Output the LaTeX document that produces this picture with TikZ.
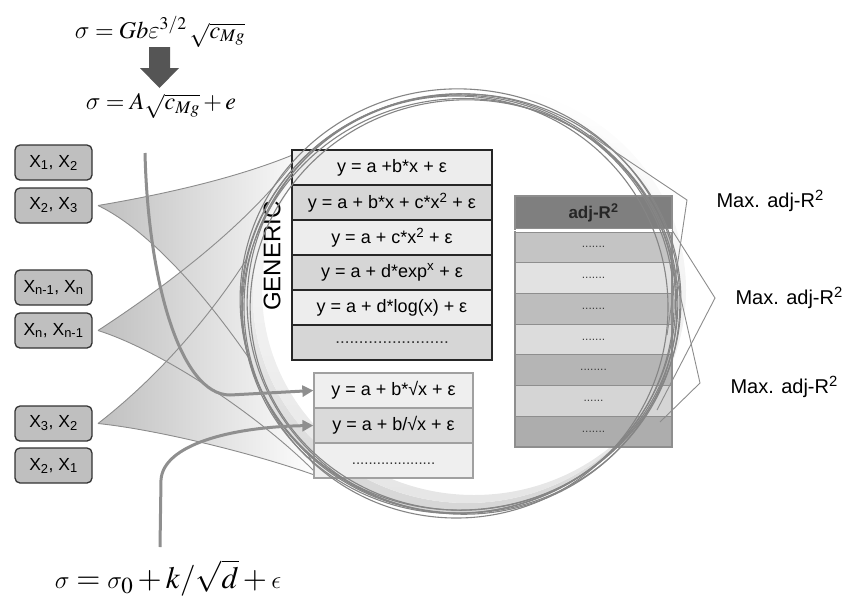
\documentclass[tikz,border=0pt]{standalone}
\usepackage{mathptmx}
\usepackage[no-math]{fontspec}
\setmainfont{Liberation Sans}
\DeclareSymbolFont{cmletters}{OML}{cmm}{m}{it}
\DeclareMathSymbol{\csig}{\mathord}{cmletters}{"1B}
\DeclareMathSymbol{\cvareps}{\mathord}{cmletters}{"22}
\DeclareMathSymbol{\ceps}{\mathord}{cmletters}{"0F}
\usetikzlibrary{arrows.meta}
\definecolor{boxfill}{HTML}{BFBFBF}
\definecolor{boxline}{HTML}{333333}
\definecolor{gA}{HTML}{EDEDED}
\definecolor{gB}{HTML}{D6D6D6}
\definecolor{sA}{HTML}{EFEFEF}
\definecolor{sB}{HTML}{DADADA}
\definecolor{sline}{HTML}{A0A0A0}
\definecolor{aH}{HTML}{7F7F7F}
\definecolor{a1}{HTML}{C4C4C4}
\definecolor{a2}{HTML}{E2E2E2}
\definecolor{a3}{HTML}{BDBDBD}
\definecolor{a4}{HTML}{DCDCDC}
\definecolor{a5}{HTML}{B5B5B5}
\definecolor{a6}{HTML}{D5D5D5}
\definecolor{a7}{HTML}{ADADAD}
\definecolor{aline}{HTML}{8E8E8E}
\definecolor{ringc}{HTML}{858585}
\definecolor{fanline}{HTML}{8C8C8C}
\definecolor{flowc}{HTML}{8F8F8F}
\definecolor{darkarrow}{HTML}{555555}
\tikzset{
  xbox/.style={draw=boxline, fill=boxfill, rounded corners=5pt, line width=1.3pt,
    minimum width=77pt, minimum height=35pt, inner sep=0pt, font=\fontsize{17.5}{20}\selectfont},
  genrow/.style={draw=black!85, line width=1.3pt, minimum width=200pt, minimum height=35pt,
    inner sep=0pt, font=\fontsize{18}{20}\selectfont},
  srow/.style={draw=sline, line width=1.3pt, minimum width=159pt, minimum height=35pt,
    inner sep=0pt, font=\fontsize{18}{20}\selectfont},
  arow/.style={draw=aline, line width=1.2pt, minimum width=157pt, minimum height=30.7pt,
    inner sep=0pt, font=\fontsize{12}{14}\selectfont, text=black!75},
  ring/.style={draw=ringc, line width=1.1pt},
  fanedge/.style={draw=fanline, line width=0.9pt},
  fanfill/.style={left color=black!25, right color=white},
  flow/.style={draw=flowc, line width=3pt, -{Triangle[length=11pt,width=11pt]}},
  maxlab/.style={anchor=west, font=\fontsize{20}{24}\selectfont},
  formula/.style={inner sep=0pt},
}
\begin{document}
\begin{tikzpicture}[x=1pt,y=-1pt]
\useasboundingbox (0,0) rectangle (861,600);

% formulas
\node[formula, font=\fontsize{24}{28}\selectfont] (f1) at (160,32) {$\csig = Gb\cvareps^{3/2}\,\sqrt{c_{Mg}}$};
\node[formula, font=\fontsize{24}{28}\selectfont] (f2) at (161,106) {$\csig = A\sqrt{c_{Mg}} + e$};
\node[formula, font=\fontsize{31}{36}\selectfont] (f3) at (168,578) {$\csig = \csig_0 + k/\sqrt{d} + \ceps$};

% block arrow
\fill[darkarrow] (149,47) -- (170,47) -- (170,68) -- (179,68) -- (159.5,88) -- (140,68) -- (149,68) -- cycle;

% left boxes
\node[xbox] (b1) at (53.5,162.5) {X\textsubscript{1}, X\textsubscript{2}};
\node[xbox] (b2) at (53.5,205.5) {X\textsubscript{2}, X\textsubscript{3}};
\node[xbox] (b3) at (53.5,287.5) {X\textsubscript{n-1}, X\textsubscript{n}};
\node[xbox] (b4) at (53.5,330.5) {X\textsubscript{n}, X\textsubscript{n-1}};
\node[xbox] (b5) at (53.5,423.5) {X\textsubscript{3}, X\textsubscript{2}};
\node[xbox] (b6) at (53.5,465.5) {X\textsubscript{2}, X\textsubscript{1}};

\coordinate (v1) at (98,205.5);
\coordinate (v2) at (98,330.5);
\coordinate (v3) at (98,423.5);
\coordinate (tl) at (302,151);
\coordinate (bl) at (320,477);

% fans
\path[fanfill] (v1) .. controls (160,195) and (240,178) .. (tl)
  .. controls (230,220) and (230,400) .. (bl)
  .. controls (260,360) and (170,240) .. (v1) -- cycle;
\path[fanfill] (v2) .. controls (160,290) and (250,225) .. (tl)
  .. controls (230,220) and (230,400) .. (bl)
  .. controls (260,415) and (160,350) .. (v2) -- cycle;
\path[fanfill] (v3) .. controls (180,360) and (260,260) .. (tl)
  .. controls (230,220) and (230,400) .. (bl)
  .. controls (260,455) and (160,430) .. (v3) -- cycle;
\draw[fanedge] (v1) .. controls (160,195) and (240,178) .. (tl);
\draw[fanedge] (bl) .. controls (260,360) and (170,240) .. (v1);
\draw[fanedge] (v2) .. controls (160,290) and (250,225) .. (tl);
\draw[fanedge] (bl) .. controls (260,415) and (160,350) .. (v2);
\draw[fanedge] (v3) .. controls (180,360) and (260,260) .. (tl);
\draw[fanedge] (bl) .. controls (260,455) and (160,430) .. (v3);

% lens shadow (soft lower-left crescent inside the ring)
\path[even odd rule, top color=white, bottom color=black!16]
  (458,304) ellipse [x radius=216, y radius=209]
  (467,296) ellipse [x radius=214, y radius=207];
\path[even odd rule, top color=white, bottom color=black!10]
  (467,296) ellipse [x radius=214, y radius=207]
  (474,290) ellipse [x radius=212, y radius=205];

% generic table
\node[genrow, fill=gA] (g1) at (392,167.5) {y = a +b*x + ε};
\node[genrow, fill=gB] (g2) at (392,202.5) {y = a + b*x + c*x\textsuperscript{2} + ε};
\node[genrow, fill=gA] (g3) at (392,237.5) {y = a + c*x\textsuperscript{2} + ε};
\node[genrow, fill=gB] (g4) at (392,272.5) {y = a + d*exp\textsuperscript{x} + ε};
\node[genrow, fill=gA] (g5) at (392,307.5) {y = a + d*log(x) + ε};
\node[genrow, fill=gB] (g6) at (392,342.5) {};
\node[font=\fontsize{17}{20}\selectfont, inner sep=0pt, text=black!80] (gd) at (392,343) {........................};
\node[rotate=90, font=\fontsize{24}{28}\selectfont, inner sep=0pt] (gen) at (272,256) {GENERIC};

% second table
\node[srow, fill=sA] (s1) at (393.5,390.5) {y = a + b*√x + ε};
\node[srow, fill=sB] (s2) at (393.5,425.5) {y = a + b/√x + ε};
\node[srow, fill=sA] (s3) at (393.5,460.5) {};
\node[font=\fontsize{15}{18}\selectfont, inner sep=0pt, text=black!80] (sd) at (393.5,464) {....................};

% adj table
\node[arow, fill=aH, minimum height=33pt, text=black!85, font=\bfseries\fontsize{17}{20}\selectfont] (ah) at (593.5,212.5) {adj-R\textsuperscript{2}};
\node[arow, fill=a1] (r1) at (593.5,247.35) {.......};
\node[arow, fill=a2] (r2) at (593.5,278.05) {.......};
\node[arow, fill=a3] (r3) at (593.5,308.75) {.......};
\node[arow, fill=a4] (r4) at (593.5,339.45) {.......};
\node[arow, fill=a5] (r5) at (593.5,370.15) {........};
\node[arow, fill=a6] (r6) at (593.5,400.85) {......};
\node[arow, fill=a7] (r7) at (593.5,431.55) {.......};
\fill[white] (515.5,229.3) rectangle (671.5,232);

% rings
\draw[ring] (458,304) ellipse [x radius=216, y radius=209];
\draw[ring] (461,302) [rotate around={4:(461,302)}] ellipse [x radius=220, y radius=208];
\draw[ring] (456,307) [rotate around={-4:(456,307)}] ellipse [x radius=212, y radius=211];
\draw[ring] (464,305) [rotate around={8:(464,305)}] ellipse [x radius=214, y radius=205];
\draw[ring] (460,301) [rotate around={-7:(460,301)}] ellipse [x radius=220, y radius=212];
\draw[ring] (459,306) [rotate around={12:(459,306)}] ellipse [x radius=217, y radius=207];
\draw[ring] (462,304) [rotate around={-11:(462,304)}] ellipse [x radius=215, y radius=210];

% flow arrows
\coordinate (a1s) at (145,153);
\coordinate (a2s) at (160,547);
\draw[flow] (a1s) .. controls (148,280) and (180,395) .. (230,395) -- (s1.west);
\draw[flow] (a2s) -- (161,480) .. controls (163,445) and (230,427) .. (s2.west);

% max labels
\node[maxlab] (m1) at (713,201) {Max. adj-R\textsuperscript{2}};
\node[maxlab] (m2) at (732,298) {Max. adj-R\textsuperscript{2}};
\node[maxlab] (m3) at (727,387) {Max. adj-R\textsuperscript{2}};

% chevrons
\coordinate (c1) at (687,200);
\coordinate (c2) at (715,298);
\coordinate (c3) at (700,383);
\draw[fanedge] (590,135) -- (c1) -- (667,335);
\draw[fanedge] (672,230) -- (c2) -- (657,410);
\draw[fanedge] (670,250) -- (c3) -- (660,422);
\end{tikzpicture}
\end{document}
